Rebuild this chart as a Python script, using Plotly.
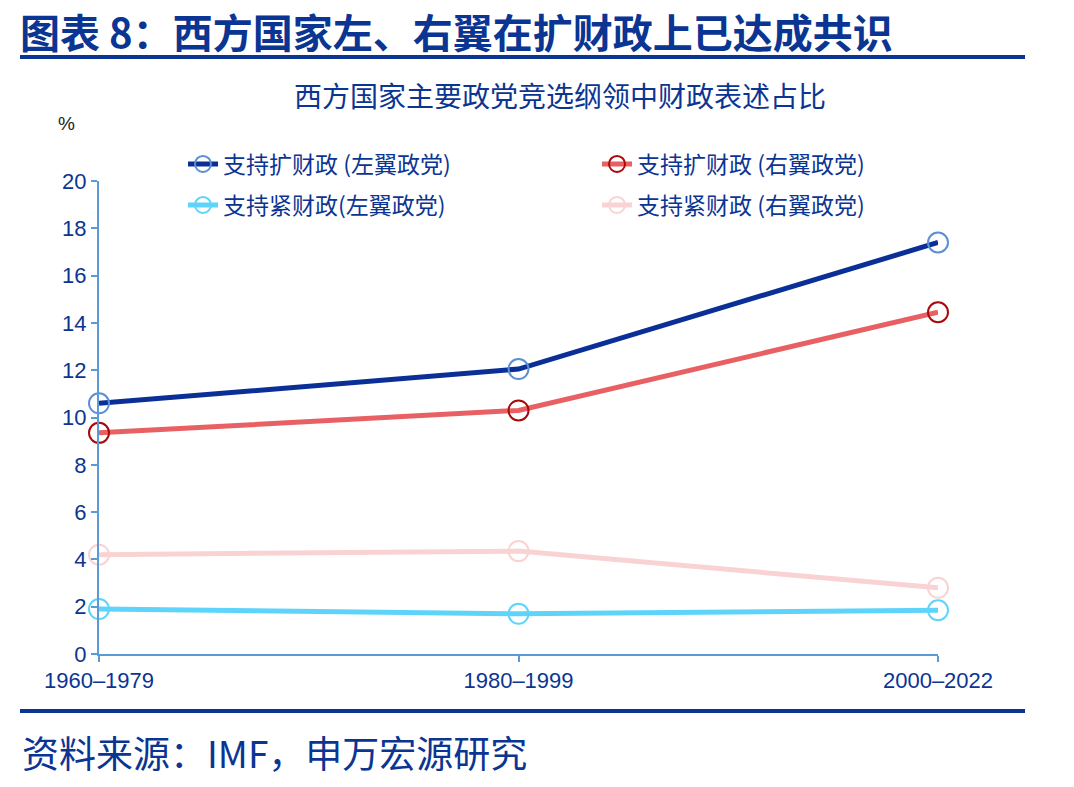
import plotly.graph_objects as go

categories = ["1960–1979", "1980–1999", "2000–2022"]
left_expand = [10.6, 12.05, 17.4]
right_expand = [9.35, 10.3, 14.45]
left_tight = [1.9, 1.7, 1.85]
right_tight = [4.2, 4.35, 2.8]

names = ["支持扩财政 (左翼政党)", "支持扩财政 (右翼政党)", "支持紧财政(左翼政党)", "支持紧财政 (右翼政党)"]
series = [left_expand, right_expand, left_tight, right_tight]
line_colors = ["#0a2f96", "#e86063", "#5fd4fb", "#f9d3d3"]
marker_colors = ["#5b8fd6", "#a80a0a", "#5fd4fb", "#f9d3d3"]
legends = ["legend", "legend2", "legend3", "legend4"]

FONT = "Liberation Sans, Arial, Noto Sans CJK SC, sans-serif"
CJK = "Noto Sans CJK SC, Liberation Sans, sans-serif"
NAVY = "#0b3592"
AXIS = "#5b9bd5"

xs = list(range(len(categories)))
fig = go.Figure()
for name, ys, lc, mc, lg in zip(names, series, line_colors, marker_colors, legends):
    fig.add_trace(go.Scatter(
        x=xs, y=ys, name=name, mode="lines+markers",
        line=dict(color=lc, width=5),
        marker=dict(symbol="circle", size=20, color="rgba(255,255,255,0)",
                    line=dict(color=mc, width=2)),
        cliponaxis=False, legend=lg,
    ))

W, H = 1074, 787
L, R, T, B = 99, 938, 181, 654
def px(x):
    return (x - L) / (R - L)
def py(y):
    return (B - y) / (B - T)

leg_common = dict(font=dict(family=CJK, size=23, color=NAVY), bgcolor="rgba(0,0,0,0)",
                  xanchor="left", yanchor="middle", itemwidth=30)
fig.update_layout(
    width=W, height=H,
    margin=dict(l=L, r=W - R, t=T, b=H - B),
    paper_bgcolor="white", plot_bgcolor="white",
    showlegend=True,
    legend=dict(x=px(183), y=py(164), **leg_common),
    legend2=dict(x=px(597), y=py(164), **leg_common),
    legend3=dict(x=px(183), y=py(205), **leg_common),
    legend4=dict(x=px(597), y=py(205), **leg_common),
    xaxis=dict(range=[0, 2], tickvals=xs, ticktext=categories, showgrid=False,
               showline=True, linecolor=AXIS, linewidth=2, ticks="outside",
               tickcolor=AXIS, ticklen=6, tickwidth=2, zeroline=False,
               tickfont=dict(family=FONT, size=22, color=NAVY)),
    yaxis=dict(range=[0, 20], dtick=2, showgrid=False, showline=True, linecolor=AXIS,
               linewidth=2, ticks="outside", tickcolor=AXIS, ticklen=6, tickwidth=2,
               zeroline=False, tickfont=dict(family=FONT, size=22, color=NAVY)),
)

fig.add_annotation(text="<b>图表 8：西方国家左、右翼在扩财政上已达成共识</b>", xref="paper", yref="paper",
                   x=px(18), y=py(0), xanchor="left", yanchor="top", showarrow=False,
                   font=dict(family=CJK, size=40, color=NAVY))
fig.add_shape(type="line", xref="paper", yref="paper", x0=px(20), x1=px(1025), y0=py(57), y1=py(57),
              line=dict(color=NAVY, width=4))
fig.add_annotation(text="西方国家主要政党竞选纲领中财政表述占比", xref="paper", yref="paper",
                   x=px(560), y=py(95), xanchor="center", yanchor="middle", showarrow=False,
                   font=dict(family=CJK, size=28, color=NAVY))
fig.add_annotation(text="%", xref="paper", yref="paper",
                   x=px(66), y=py(124), xanchor="center", yanchor="middle", showarrow=False,
                   font=dict(family=FONT, size=19, color="#222222"))
fig.add_shape(type="line", xref="paper", yref="paper", x0=px(20), x1=px(1025), y0=py(711), y1=py(711),
              line=dict(color=NAVY, width=4))
fig.add_annotation(text="资料来源：IMF，申万宏源研究", xref="paper", yref="paper",
                   x=px(20), y=py(752), xanchor="left", yanchor="middle", showarrow=False,
                   font=dict(family=CJK, size=37, color=NAVY))

fig.write_html("out.html")
